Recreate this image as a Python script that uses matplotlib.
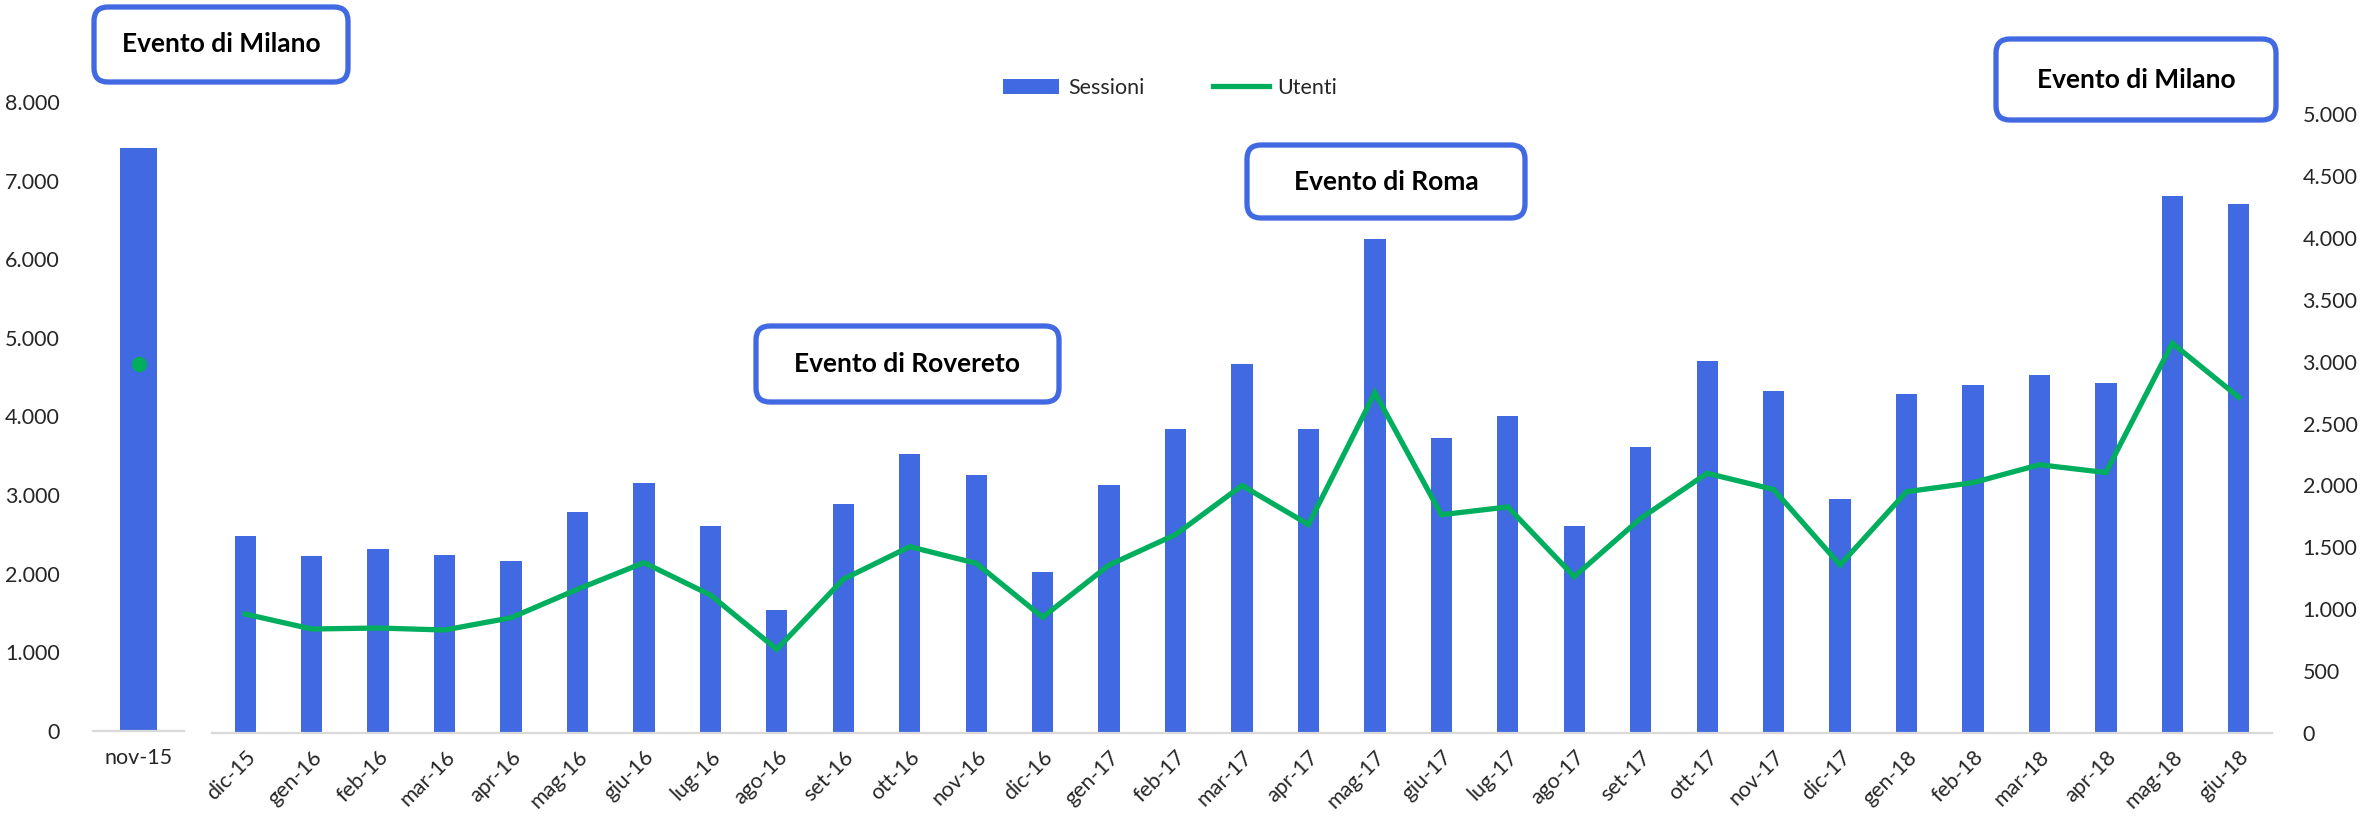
import matplotlib
matplotlib.use("Agg")
import matplotlib.pyplot as plt
from matplotlib.patches import FancyBboxPatch
from matplotlib.ticker import FuncFormatter, MultipleLocator
from matplotlib.transforms import IdentityTransform

plt.rcParams["font.family"] = ["Lato", "DejaVu Sans"]

# ── dati ──
mese_evento = ["nov-15"]
sessioni_evento = [7410]
utenti_evento = [4670]

mesi = ["dic-15", "gen-16", "feb-16", "mar-16", "apr-16", "mag-16", "giu-16",
        "lug-16", "ago-16", "set-16", "ott-16", "nov-16", "dic-16", "gen-17",
        "feb-17", "mar-17", "apr-17", "mag-17", "giu-17", "lug-17", "ago-17",
        "set-17", "ott-17", "nov-17", "dic-17", "gen-18", "feb-18", "mar-18",
        "apr-18", "mag-18", "giu-18"]
sessioni = [2545, 2287, 2377, 2296, 2218, 2855, 3230, 2674, 1593, 2959, 3609,
            3333, 2076, 3208, 3925, 4765, 3925, 6385, 3809, 4101, 2679, 3692,
            4808, 4424, 3020, 4377, 4494, 4623, 4520, 6936, 6833]
utenti = [961, 840, 848, 832, 931, 1161, 1376, 1115, 676, 1242, 1505, 1371,
          935, 1357, 1603, 1999, 1684, 2749, 1763, 1826, 1263, 1734, 2098,
          1967, 1357, 1949, 2022, 2167, 2104, 3148, 2712]

BLU = "#4169E1"
VERDE = "#00AE5E"
GRIGIO = "#D9D9D9"
TESTO = "#262626"

W, H = 2379, 818
fig = plt.figure(figsize=(W / 100, H / 100), dpi=100)

fmt = FuncFormatter(lambda v, p: f"{int(v):,}".replace(",", "."))

def px_axes(x0, y0, x1, y1):
    # rettangolo in pixel dell'immagine (y dall'alto)
    return fig.add_axes([x0 / W, 1 - y1 / H, (x1 - x0) / W, (y1 - y0) / H])

def pulisci(ax):
    for s in ("top", "right", "left"):
        ax.spines[s].set_visible(False)
    ax.spines["bottom"].set_color(GRIGIO)
    ax.spines["bottom"].set_linewidth(1.6)
    ax.tick_params(length=0, labelsize=15.5, colors=TESTO)

# ── pannello sinistro: nov-15 ──
ax1 = px_axes(93, 102, 184, 731)
ax1.bar(range(len(mese_evento)), sessioni_evento, width=0.41, color=BLU)
ax1.plot(range(len(mese_evento)), utenti_evento, "o", color=VERDE, ms=10)
ax1.set_xlim(-0.5, 0.5)
ax1.set_ylim(0, 8000)
ax1.yaxis.set_major_locator(MultipleLocator(1000))
ax1.yaxis.set_major_formatter(fmt)
ax1.set_xticks(range(len(mese_evento)), mese_evento)
pulisci(ax1)
ax1.tick_params(axis="y", pad=24)
ax1.tick_params(axis="x", pad=12)

# ── pannello destro ──
ax2 = px_axes(212, 114, 2272, 733)
x = range(len(mesi))
ax2.bar(x, sessioni, width=0.32, color=BLU, label="Sessioni")
ax2.set_xlim(-0.5, len(mesi) - 0.5)
ax2.set_ylim(0, 8000)
ax2.set_yticks([])
ax2.set_xticks(list(x), mesi, rotation=45, ha="right", rotation_mode="anchor")
pulisci(ax2)
ax2.tick_params(axis="x", pad=10)

ax3 = ax2.twinx()
ax3.plot(x, utenti, color=VERDE, lw=3.8, solid_joinstyle="miter", label="Utenti")
ax3.set_ylim(0, 5000)
ax3.yaxis.set_major_locator(MultipleLocator(500))
ax3.yaxis.set_major_formatter(fmt)
for s in ax3.spines.values():
    s.set_visible(False)
ax3.tick_params(length=0, labelsize=15.5, colors=TESTO, pad=22)

# legenda
h1, l1 = ax2.get_legend_handles_labels()
h2, l2 = ax3.get_legend_handles_labels()
fig.legend(h1 + h2, l1 + l2, loc="center", bbox_to_anchor=(0.492, 1 - 88 / H),
           ncol=2, frameon=False, fontsize=15.5, handlelength=2.6,
           columnspacing=3.2, handletextpad=0.4, labelcolor=TESTO)

# ── riquadri eventi ──
eventi = [("Evento di Milano", 94, 7, 348, 82),
          ("Evento di Rovereto", 756, 326, 1059, 402),
          ("Evento di Roma", 1247, 145, 1525, 218),
          ("Evento di Milano", 1996, 39, 2276, 120)]
for testo, x0, y0, x1, y1 in eventi:
    box = FancyBboxPatch((x0, H - y1), x1 - x0, y1 - y0,
                         boxstyle="round,pad=0,rounding_size=14",
                         transform=IdentityTransform(), facecolor="white",
                         edgecolor=BLU, linewidth=3.8)
    fig.add_artist(box)
    fig.text((x0 + x1) / 2 / W, 1 - (y0 + y1) / 2 / H, testo, ha="center",
             va="center", fontsize=19, fontweight="bold", color="black")

plt.savefig("out.png", dpi=100)
